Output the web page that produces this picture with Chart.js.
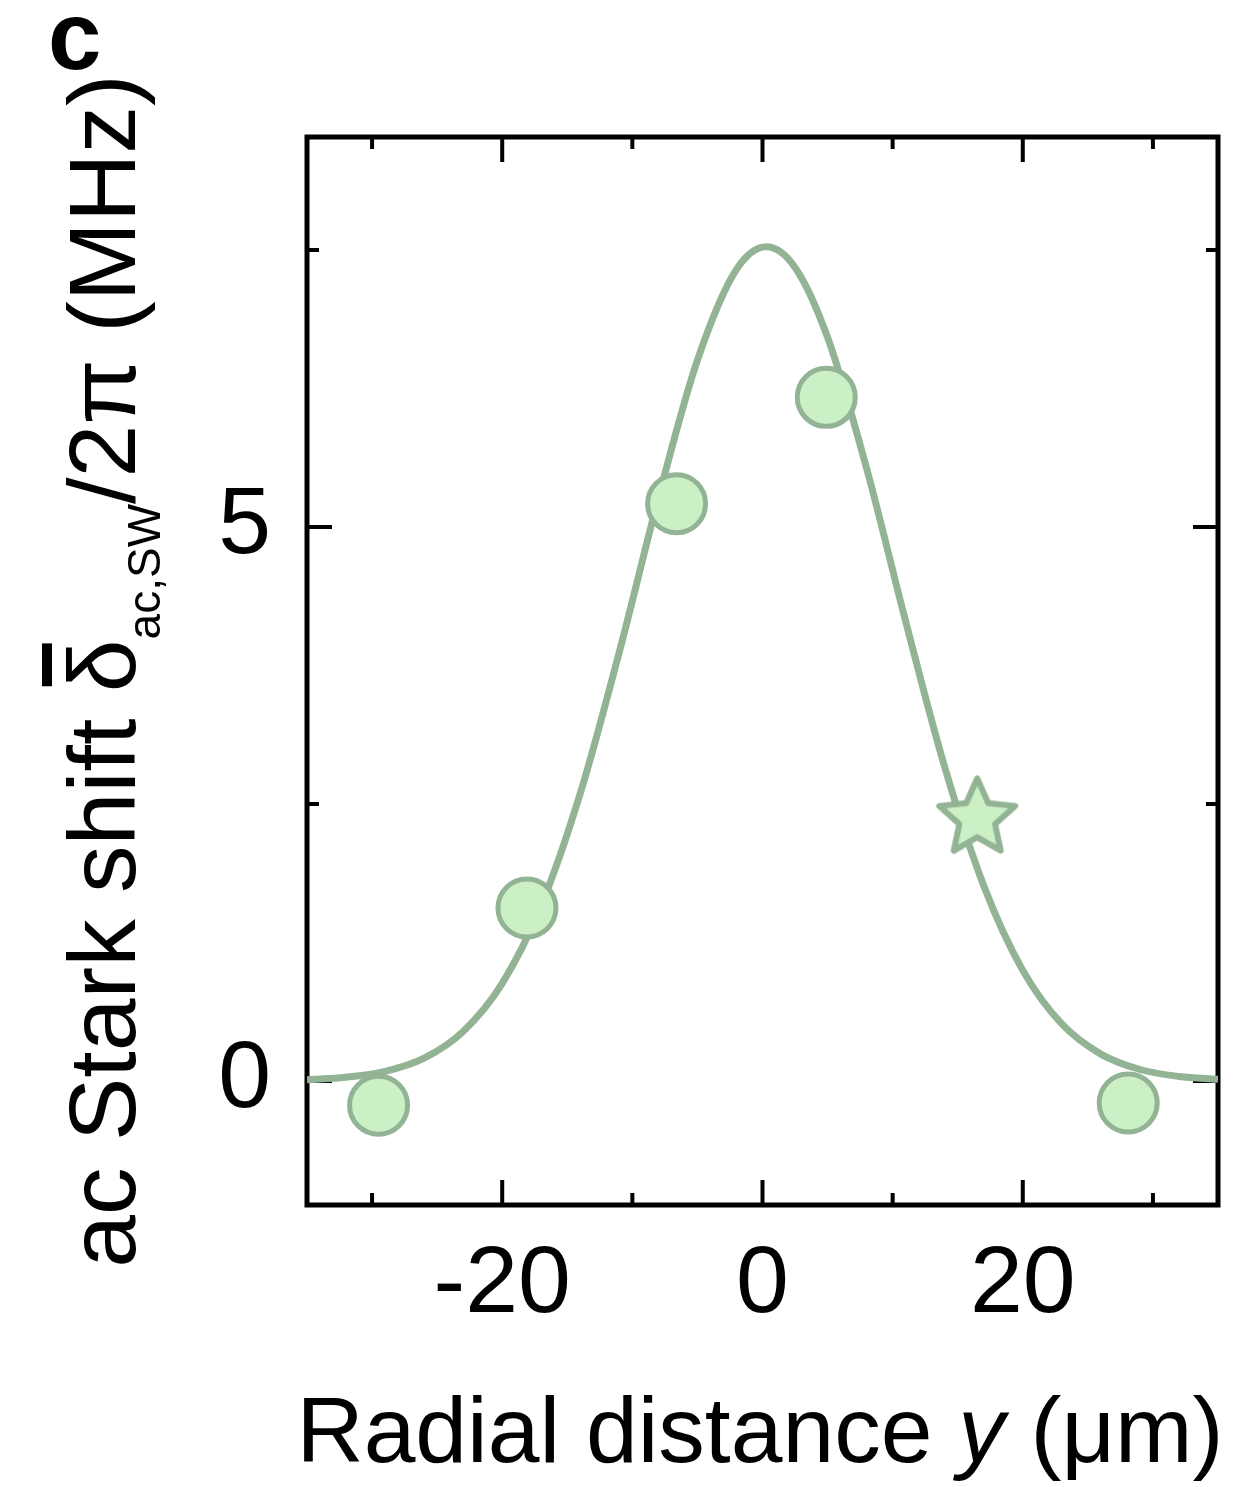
<!DOCTYPE html>
<html>
<head>
<meta charset="utf-8">
<script src="https://cdn.jsdelivr.net/npm/chart.js@4.4.1/dist/chart.umd.min.js"></script>
<style>
  html, body { margin: 0; padding: 0; background: #fff; }
  #plot { display: block; }
</style>
</head>
<body>
<canvas id="plot" width="1250" height="1487"></canvas>
<script>
// axis ranges and tick positions
const x_range = [-35, 35];
const y_range = [-1.12, 8.52];
const x_major = [-20, 0, 20];
const x_minor = [-30, -10, 10, 30];
const y_major = [0, 5];
const y_minor = [2.5, 7.5];

// measured ac Stark shift (circles)
const meas_y = [-29.5, -18.1, -6.6, 4.9, 28.1];
const meas_shift = [-0.22, 1.56, 5.21, 6.17, -0.20];

// atom position (star)
const star_y = [16.5];
const star_shift = [2.37];

// fitted beam profile
const fit_y = [-35, -32, -29, -26, -23, -20, -17, -14, -11, -8, -5, -2, 0.3, 2.5, 5, 8, 11, 14, 17, 20, 23, 26, 29, 32, 35];
const fit_shift = [0.011, 0.033, 0.086, 0.205, 0.446, 0.880, 1.584, 2.596, 3.873, 5.260, 6.505, 7.325, 7.53, 7.343, 6.712, 5.529, 4.148, 2.833, 1.762, 0.998, 0.514, 0.242, 0.103, 0.040, 0.014];

const line_color = '#93b494';
const fill_color = '#ccf0c5';
const font_family = '"Liberation Sans", Arial, Helvetica, sans-serif';

function to_points(xs, ys) {
    return xs.map((x, i) => ({ x: x, y: ys[i] }));
}

function make_star(r, inner, lw) {
    const size = Math.ceil(2 * r + 2 * lw);
    const c = document.createElement('canvas');
    c.width = size;
    c.height = size;
    const g = c.getContext('2d');
    g.beginPath();
    for (let i = 0; i < 10; i++) {
        const rad = i % 2 ? r * inner : r;
        const a = -Math.PI / 2 + i * Math.PI / 5;
        const px = size / 2 + rad * Math.cos(a);
        const py = size / 2 + rad * Math.sin(a);
        if (i === 0) g.moveTo(px, py); else g.lineTo(px, py);
    }
    g.closePath();
    g.fillStyle = fill_color;
    g.fill();
    g.lineJoin = 'round';
    g.lineWidth = lw;
    g.strokeStyle = line_color;
    g.stroke();
    return c;
}

// frame plus inward ticks on all four sides
const frame_plugin = {
    id: 'frame',
    beforeDatasetsDraw(chart) {
        const ctx = chart.ctx;
        const a = chart.chartArea;
        const xs = chart.scales.x;
        const ys = chart.scales.y;
        ctx.save();
        ctx.strokeStyle = '#000';
        ctx.lineWidth = 4;
        ctx.lineCap = 'butt';
        ctx.beginPath();
        const tick_x = (v, len) => {
            const p = xs.getPixelForValue(v);
            ctx.moveTo(p, a.bottom); ctx.lineTo(p, a.bottom - len);
            ctx.moveTo(p, a.top); ctx.lineTo(p, a.top + len);
        };
        const tick_y = (v, len) => {
            const p = ys.getPixelForValue(v);
            ctx.moveTo(a.left, p); ctx.lineTo(a.left + len, p);
            ctx.moveTo(a.right, p); ctx.lineTo(a.right - len, p);
        };
        x_major.forEach(v => tick_x(v, 25));
        x_minor.forEach(v => tick_x(v, 12));
        y_major.forEach(v => tick_y(v, 25));
        y_minor.forEach(v => tick_y(v, 12));
        ctx.stroke();
        ctx.lineWidth = 5;
        ctx.strokeRect(a.left, a.top, a.right - a.left, a.bottom - a.top);
        ctx.restore();
    }
};

// axis titles and panel letter
const labels_plugin = {
    id: 'labels',
    afterDraw(chart) {
        const ctx = chart.ctx;
        const big = '95px ' + font_family;
        const small = '46px ' + font_family;
        ctx.save();
        ctx.fillStyle = '#000';
        ctx.textBaseline = 'alphabetic';
        ctx.textAlign = 'left';

        // x title
        const xfont = '93px ' + font_family;
        const xparts = [
            { t: 'Radial distance ', f: xfont },
            { t: 'y', f: 'italic ' + xfont },
            { t: ' (\u03bcm)', f: xfont }
        ];
        let total = 0;
        xparts.forEach(p => { ctx.font = p.f; p.w = ctx.measureText(p.t).width; total += p.w; });
        let cx = 760 - total / 2;
        xparts.forEach(p => { ctx.font = p.f; ctx.fillText(p.t, cx, 1462); cx += p.w; });

        // y title, rotated
        const yparts = [
            { t: 'ac Stark shift ', f: big, dy: 0 },
            { t: '\u03b4', f: big, dy: 0, bar: true },
            { t: 'ac,SW', f: small, dy: 25 },
            { t: '/2\u03c0 (MHz)', f: big, dy: 0 }
        ];
        ctx.translate(135, 671);
        ctx.rotate(-Math.PI / 2);
        total = 0;
        yparts.forEach(p => { ctx.font = p.f; p.w = ctx.measureText(p.t).width; total += p.w; });
        let ty = -total / 2;
        yparts.forEach(p => {
            ctx.font = p.f;
            ctx.fillText(p.t, ty, p.dy);
            if (p.bar) ctx.fillRect(ty + 6, -93, p.w - 10, 10);
            ty += p.w;
        });
        ctx.restore();

        // panel letter
        ctx.save();
        ctx.fillStyle = '#000';
        ctx.font = 'bold 96px ' + font_family;
        ctx.textBaseline = 'alphabetic';
        ctx.fillText('c', 48, 69);
        ctx.restore();
    }
};

new Chart(document.getElementById('plot'), {
    data: {
        datasets: [
            {
                type: 'line',
                data: to_points(fit_y, fit_shift),
                borderColor: line_color,
                borderWidth: 7,
                pointRadius: 0,
                cubicInterpolationMode: 'monotone',
                fill: false,
                order: 3
            },
            {
                type: 'scatter',
                data: to_points(meas_y, meas_shift),
                pointStyle: 'circle',
                pointRadius: 29,
                borderWidth: 5,
                pointBorderWidth: 5,
                backgroundColor: fill_color,
                borderColor: line_color,
                pointBackgroundColor: fill_color,
                pointBorderColor: line_color,
                order: 2
            },
            {
                type: 'scatter',
                data: to_points(star_y, star_shift),
                pointStyle: make_star(40, 0.47, 6),
                pointRadius: 40,
                order: 1
            }
        ]
    },
    options: {
        responsive: false,
        animation: false,
        devicePixelRatio: 1,
        layout: {
            autoPadding: false,
            padding: { top: 137, right: 32, left: 0, bottom: 0 }
        },
        plugins: {
            legend: { display: false },
            tooltip: { enabled: false }
        },
        scales: {
            x: {
                type: 'linear',
                min: x_range[0],
                max: x_range[1],
                grid: { display: false },
                border: { display: false },
                afterBuildTicks: scale => { scale.ticks = x_major.map(v => ({ value: v })); },
                afterFit: scale => {
                    scale.height = 282;
                    scale.paddingLeft = 0;
                    scale.paddingRight = 0;
                },
                ticks: {
                    autoSkip: false,
                    maxRotation: 0,
                    padding: 16,
                    color: '#000',
                    font: { family: font_family, size: 95 },
                    callback: v => String(v)
                }
            },
            y: {
                type: 'linear',
                min: y_range[0],
                max: y_range[1],
                grid: { display: false },
                border: { display: false },
                afterBuildTicks: scale => { scale.ticks = y_major.map(v => ({ value: v })); },
                afterFit: scale => {
                    scale.width = 307;
                    scale.paddingTop = 0;
                    scale.paddingBottom = 0;
                },
                ticks: {
                    autoSkip: false,
                    padding: 28,
                    color: '#000',
                    font: { family: font_family, size: 95 },
                    callback: v => String(v)
                }
            }
        }
    },
    plugins: [frame_plugin, labels_plugin]
});
</script>
</body>
</html>
